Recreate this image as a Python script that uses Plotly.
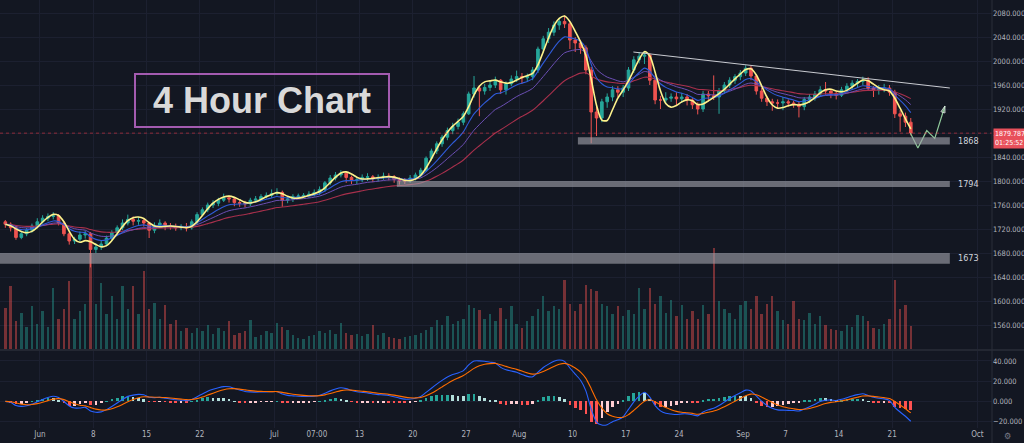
import numpy as np
import pandas as pd
import plotly.graph_objects as go

# ---------------- DATA (XAUUSD, half-day candles) ----------------
first_open = 1732
closes = [
    1728,                                                                # May 26 pm
    1722, 1706, 1712, 1718, 1725, 1732,                                  # May 27-29
    1738, 1741, 1742, 1730, 1712, 1700, 1703, 1710, 1712, 1686,          # Jun 1-5
    1690, 1695, 1705, 1714, 1722, 1730, 1736, 1733, 1734, 1730,          # Jun 8-12
    1718, 1726, 1730, 1725, 1724, 1722, 1724, 1722, 1732, 1744,          # Jun 15-19
    1752, 1760, 1763, 1768, 1772, 1770, 1764, 1763, 1762, 1768,          # Jun 22-26
    1770, 1774, 1776, 1779, 1781, 1768, 1770, 1774, 1775, 1776,          # Jun 29-Jul 3
    1778, 1781, 1786, 1797, 1805, 1810, 1813, 1806, 1801, 1802,          # Jul 6-10
    1806, 1807, 1804, 1806, 1808, 1807, 1803, 1800, 1800, 1805,          # Jul 13-17
    1810, 1818, 1838, 1850, 1862, 1873, 1884, 1891, 1898, 1912,          # Jul 20-24
    1945, 1955, 1950, 1956, 1960, 1968, 1952, 1962, 1970, 1974,          # Jul 27-31
    1972, 1974, 1985, 2020, 2037, 2048, 2060, 2066, 2062, 2035,          # Aug 3-7
    2030, 2022, 1985, 1915, 1905, 1932, 1940, 1952, 1948, 1955,          # Aug 10-14
    1985, 2002, 2008, 2010, 1968, 1935, 1935, 1938, 1940, 1937,          # Aug 17-21
    1940, 1935, 1927, 1920, 1945, 1942, 1940, 1950, 1960, 1968,          # Aug 24-28
    1974, 1980, 1988, 1975, 1950, 1938, 1932, 1930, 1930, 1932,          # Aug 31-Sep 4
    1930, 1928, 1924, 1936, 1940, 1945, 1952, 1950, 1946, 1943,          # Sep 7-11
    1952, 1958, 1963, 1966, 1968, 1955, 1952, 1954, 1955, 1948,          # Sep 14-18
    1912, 1908, 1898, 1880,                                              # Sep 21-22
]
highs = [
    1735,
    1731, 1725, 1716, 1722, 1729, 1738,
    1743, 1746, 1748, 1745, 1733, 1715, 1707, 1716, 1717, 1715,
    1696, 1700, 1709, 1718, 1726, 1736, 1744, 1741, 1740, 1738,
    1732, 1731, 1736, 1733, 1730, 1729, 1728, 1730, 1736, 1748,
    1756, 1764, 1768, 1772, 1779, 1776, 1773, 1768, 1767, 1772,
    1775, 1778, 1781, 1786, 1788, 1784, 1775, 1778, 1779, 1780,
    1783, 1786, 1791, 1800, 1810, 1815, 1818, 1816, 1809, 1806,
    1811, 1813, 1810, 1811, 1814, 1813, 1810, 1806, 1805, 1810,
    1814, 1822, 1841, 1854, 1866, 1877, 1889, 1897, 1904, 1916,
    1949, 1975, 1960, 1962, 1966, 1974, 1970, 1966, 1976, 1984,
    1980, 1979, 1990, 2024, 2042, 2055, 2066, 2071, 2076, 2066,
    2040, 2035, 2026, 1990, 1925, 1937, 1946, 1958, 1958, 1960,
    1990, 2008, 2015, 2016, 2013, 1972, 1942, 1948, 1946, 1948,
    1947, 1945, 1938, 1931, 1950, 1950, 1976, 1955, 1965, 1973,
    1978, 1985, 1993, 1992, 1978, 1955, 1942, 1937, 1936, 1940,
    1936, 1934, 1932, 1940, 1945, 1950, 1958, 1965, 1954, 1950,
    1957, 1963, 1968, 1970, 1974, 1973, 1958, 1960, 1962, 1960,
    1952, 1918, 1914, 1905,
]
lows = [
    1722,
    1716, 1702, 1703, 1708, 1714, 1721,
    1729, 1733, 1736, 1726, 1708, 1694, 1695, 1699, 1704, 1656,
    1680, 1685, 1691, 1700, 1710, 1718, 1726, 1726, 1727, 1724,
    1705, 1713, 1722, 1718, 1719, 1717, 1718, 1716, 1719, 1728,
    1741, 1748, 1755, 1758, 1765, 1764, 1758, 1757, 1756, 1758,
    1764, 1766, 1771, 1772, 1776, 1757, 1763, 1765, 1770, 1771,
    1772, 1774, 1777, 1782, 1793, 1801, 1806, 1797, 1795, 1795,
    1798, 1800, 1798, 1799, 1802, 1801, 1797, 1794, 1795, 1797,
    1801, 1806, 1815, 1834, 1845, 1857, 1868, 1878, 1886, 1893,
    1910, 1939, 1908, 1944, 1950, 1955, 1945, 1944, 1958, 1965,
    1962, 1966, 1968, 1980, 2014, 2030, 2042, 2052, 2055, 2020,
    2015, 2012, 1978, 1863, 1875, 1898, 1922, 1933, 1940, 1940,
    1950, 1980, 1996, 1995, 1960, 1928, 1920, 1930, 1932, 1925,
    1930, 1926, 1920, 1911, 1915, 1932, 1935, 1912, 1946, 1955,
    1962, 1968, 1975, 1968, 1944, 1932, 1925, 1917, 1922, 1918,
    1924, 1922, 1906, 1918, 1930, 1934, 1940, 1944, 1938, 1936,
    1940, 1948, 1952, 1955, 1960, 1950, 1940, 1944, 1948, 1942,
    1905, 1882, 1890, 1876,
]
volumes = [
    41,
    63, 28, 36, 22, 43, 25,
    38, 22, 61, 30, 40, 68, 30, 38, 45, 96,
    45, 66, 35, 53, 30, 63, 40, 63, 35, 78,
    40, 46, 30, 44, 25, 29, 18, 21, 16, 21,
    18, 24, 15, 21, 18, 28, 14, 16, 18, 29,
    12, 14, 18, 16, 26, 22, 19, 14, 11, 10,
    13, 14, 18, 16, 19, 15, 26, 16, 14, 15,
    13, 15, 24, 14, 16, 12, 11, 10, 12, 13,
    14, 16, 19, 22, 29, 24, 33, 25, 28, 30,
    44, 41, 39, 30, 35, 28, 41, 30, 43, 25,
    21, 28, 33, 40, 53, 38, 43, 40, 69, 45,
    38, 45, 64, 60, 58, 45, 43, 35, 43, 33,
    39, 35, 61, 40, 61, 45, 53, 36, 49, 33,
    44, 30, 38, 30, 44, 35, 101, 48, 40, 36,
    30, 44, 48, 40, 53, 35, 45, 53, 38, 29,
    25, 48, 30, 29, 36, 25, 33, 24, 20, 19,
    18, 24, 22, 34, 33, 28, 21, 20, 25, 30,
    69, 40, 44, 23,
]

# trading days (weekends skipped), two half-day candles per day stamped at their middle;
# the series starts with the afternoon candle of May 26
trading_days = pd.bdate_range("2020-05-26", "2020-09-22")
bar_times = [d + pd.Timedelta(hours=h) for d in trading_days for h in (6, 18)][1:]
opens = [first_open] + closes[:-1]

# analysis drawings
zone_levels = [1868, 1794, 1673]
zone_lows = [1861, 1790, 1662]
zone_highs = [1873, 1800, 1680]
zone_starts = ["2020-08-10 12:00", "2020-07-16 12:00", "2020-05-26 06:00"]
zone_end = "2020-09-28 10:00"
trend_dates = ["2020-08-17 17:00", "2020-09-28 10:00"]
trend_prices = [2015, 1955]
proj_dates = ["2020-09-22 17:00", "2020-09-23 10:00", "2020-09-24 06:00", "2020-09-25 00:00", "2020-09-25 23:00"]
proj_prices = [1880, 1855, 1884, 1871, 1925]
last_price = 1879.787
countdown = "01:25:52"

price_ticks = list(range(1560, 2081, 40))
macd_ticks = [-20, 0, 20, 40]
tick_dates = ["2020-06-01", "2020-06-08", "2020-06-15", "2020-06-22", "2020-07-01", "2020-07-07",
              "2020-07-13", "2020-07-20", "2020-07-27", "2020-08-03", "2020-08-10", "2020-08-17",
              "2020-08-24", "2020-09-01", "2020-09-07", "2020-09-14", "2020-09-21", "2020-10-01"]
tick_labels = ["Jun", "8", "15", "22", "Jul", "07:00", "13", "20", "27", "Aug", "10", "17",
               "24", "Sep", "7", "14", "21", "Oct"]

# ---------------- indicators computed from the closes ----------------
c = pd.Series(closes, dtype=float)


def wma(s, n):
    vals = s.to_numpy()
    out = []
    for i in range(len(vals)):
        win = vals[max(0, i - n + 1): i + 1]
        w = np.arange(1, len(win) + 1)
        out.append(float(np.dot(win, w) / w.sum()))
    return pd.Series(out)


hma = wma(2 * wma(c, 4) - wma(c, 8), 3)
ema_blue = c.ewm(span=7, adjust=False).mean()
ema_purple = c.ewm(span=13, adjust=False).mean()
ema_red = c.ewm(span=26, adjust=False).mean()

macd = c.ewm(span=6, adjust=False).mean() - c.ewm(span=15, adjust=False).mean()
signal = macd.ewm(span=5, adjust=False).mean()
hist = macd - signal
hist_colors = []
prev = 0.0
for h in hist:
    if h >= 0:
        hist_colors.append("#26a69a" if h >= prev else "#b2dfdb")
    else:
        hist_colors.append("#ff5252" if h < prev else "#ffcdd2")
    prev = h

vol_colors = ["rgba(38,166,154,0.42)" if cl >= op else "rgba(239,83,80,0.45)"
              for op, cl in zip(opens, closes)]

# ---------------- figure ----------------
BG = "#131722"
GRID = "#1c2030"
TXT = "#b2b5be"
FONT = "Liberation Sans Narrow, DejaVu Sans Condensed, Liberation Sans, Arial"
PLOT_H = 428.0
PLOT_W = 992.0
price_bottom = 79 / PLOT_H
macd_top = 77 / PLOT_H

fig = go.Figure()

fig.add_trace(go.Bar(x=bar_times, y=volumes, marker=dict(color=vol_colors, line_width=0),
                     xaxis="x", yaxis="y2", width=12 * 3600 * 1000 * 0.45, showlegend=False))

fig.add_trace(go.Candlestick(
    x=bar_times, open=opens, high=highs, low=lows, close=closes,
    increasing=dict(line=dict(color="#26a69a", width=1), fillcolor="#26a69a"),
    decreasing=dict(line=dict(color="#ef5350", width=1), fillcolor="#ef5350"),
    whiskerwidth=0, xaxis="x", yaxis="y", showlegend=False))

for series, color, width in [(ema_red, "#a8304c", 1.1), (ema_purple, "#6c4fb5", 1.0),
                             (ema_blue, "#2f5bd8", 1.1), (hma, "#fdf28c", 1.6)]:
    fig.add_trace(go.Scatter(x=bar_times, y=series, mode="lines",
                             line=dict(color=color, width=width, shape="spline", smoothing=0.8),
                             xaxis="x", yaxis="y", showlegend=False, hoverinfo="skip"))

# trend line and projected path
fig.add_trace(go.Scatter(x=trend_dates, y=trend_prices, mode="lines",
                         line=dict(color="#c9cbd1", width=1), xaxis="x", yaxis="y",
                         showlegend=False, hoverinfo="skip"))
fig.add_trace(go.Scatter(x=proj_dates, y=proj_prices, mode="lines+markers",
                         line=dict(color="#8fc99a", width=1.2),
                         marker=dict(symbol="arrow", size=[0, 0, 0, 0, 7], angleref="previous",
                                     color="#8fc99a"),
                         xaxis="x", yaxis="y", showlegend=False, hoverinfo="skip"))

# MACD pane
fig.add_trace(go.Bar(x=bar_times, y=hist, marker=dict(color=hist_colors, line_width=0),
                     width=12 * 3600 * 1000 * 0.5, xaxis="x2", yaxis="y3", showlegend=False))
fig.add_trace(go.Scatter(x=bar_times, y=macd, mode="lines",
                         line=dict(color="#2962ff", width=1.1, shape="spline", smoothing=0.6),
                         xaxis="x2", yaxis="y3", showlegend=False))
fig.add_trace(go.Scatter(x=bar_times, y=signal, mode="lines",
                         line=dict(color="#ff6d00", width=1.1, shape="spline", smoothing=0.6),
                         xaxis="x2", yaxis="y3", showlegend=False))

shapes = []
for lo, hi, st in zip(zone_lows, zone_highs, zone_starts):
    shapes.append(dict(type="rect", xref="x", yref="y", x0=st, x1=zone_end, y0=lo, y1=hi,
                       fillcolor="rgba(160,162,170,0.62)", line_width=0, layer="above"))
shapes.append(dict(type="line", xref="paper", yref="y", x0=0, x1=1, y0=last_price, y1=last_price,
                   line=dict(color="rgba(242,54,69,0.55)", width=1, dash="dot")))
shapes.append(dict(type="line", xref="paper", yref="paper", x0=0, x1=1.04,
                   y0=(price_bottom + macd_top) / 2, y1=(price_bottom + macd_top) / 2,
                   line=dict(color="#2a2e39", width=1.5)))
shapes.append(dict(type="line", xref="paper", yref="paper", x0=1, x1=1, y0=-0.04, y1=1,
                   line=dict(color="#2a2e39", width=1)))
# title frame
shapes.append(dict(type="rect", xref="paper", yref="paper", x0=135 / PLOT_W, x1=389 / PLOT_W,
                   y0=(PLOT_H - 127) / PLOT_H, y1=(PLOT_H - 74) / PLOT_H,
                   line=dict(color="#a35bb0", width=2), fillcolor="rgba(0,0,0,0)"))

annotations = [dict(xref="paper", yref="paper", x=262 / PLOT_W, y=(PLOT_H - 100) / PLOT_H,
                    xanchor="center", yanchor="middle",
                    text="<b>4 Hour Chart</b>", showarrow=False,
                    font=dict(family="Liberation Sans, Arial", size=36, color="#d9d9d9"))]
for lvl, lo, hi in zip(zone_levels, zone_lows, zone_highs):
    annotations.append(dict(xref="paper", yref="y", x=956 / PLOT_W, y=(lo + hi) / 2, xanchor="left",
                            yanchor="middle", text=str(lvl), showarrow=False,
                            font=dict(family=FONT, size=9, color="#d1d4dc")))
annotations.append(dict(xref="paper", yref="y", x=1.001, y=last_price, xanchor="left", yanchor="top",
                        yshift=5, text=f"{last_price:.3f}<br>{countdown}", showarrow=False,
                        bgcolor="#e8505b", borderpad=1, align="left",
                        font=dict(family=FONT, size=7, color="#ffffff")))
annotations.append(dict(xref="paper", yref="paper", x=1.016, y=-0.019, xanchor="center",
                        yanchor="middle", text="⚙", showarrow=False,
                        font=dict(size=9, color="#787b86")))

xcommon = dict(type="date", range=["2020-05-26 06:00", "2020-10-02 09:00"],
               rangebreaks=[dict(bounds=["sat", "mon"])],
               showgrid=True, gridcolor=GRID, gridwidth=1, zeroline=False,
               tickvals=tick_dates, ticktext=tick_labels, showline=False,
               rangeslider=dict(visible=False))

fig.update_layout(
    width=1024, height=443,
    margin=dict(l=0, r=32, t=0, b=15, autoexpand=False),
    paper_bgcolor=BG, plot_bgcolor=BG,
    font=dict(family=FONT, color=TXT, size=8),
    showlegend=False, bargap=0,
    shapes=shapes, annotations=annotations,
    xaxis=dict(**xcommon, domain=[0, 1], anchor="y", showticklabels=False),
    xaxis2=dict(**xcommon, domain=[0, 1], anchor="y3", matches="x", showticklabels=True,
                tickfont=dict(family=FONT, size=8, color=TXT), ticklen=0),
    yaxis=dict(domain=[price_bottom, 1], anchor="x", side="right", range=[1520, 2101.7],
               tickvals=price_ticks, tickformat=".3f", showgrid=True, gridcolor=GRID,
               zeroline=False, tickfont=dict(family=FONT, size=7.5, color=TXT), ticklen=0),
    yaxis2=dict(overlaying="y", range=[0, 349], visible=False),
    yaxis3=dict(domain=[0, macd_top], anchor="x2", side="right", range=[-26.3, 49.8],
                tickvals=macd_ticks, tickformat=".3f", showgrid=True, gridcolor=GRID,
                zeroline=False, tickfont=dict(family=FONT, size=7.5, color=TXT), ticklen=0),
)

fig.write_html("out.html", config={"displayModeBar": False},
               post_script="document.body.style.margin='0';")
